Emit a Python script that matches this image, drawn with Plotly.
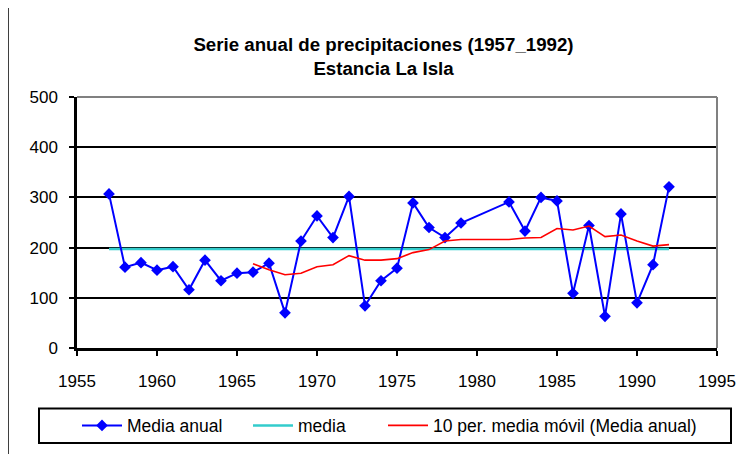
import plotly.graph_objects as go

# ---- data ----
years = [1957, 1958, 1959, 1960, 1961, 1962, 1963, 1964, 1965, 1966, 1967, 1968,
         1969, 1970, 1971, 1972, 1973, 1974, 1975, 1976, 1977, 1978, 1979,
         1982, 1983, 1984, 1985, 1986, 1987, 1988, 1989, 1990, 1991, 1992]
media_anual = [307, 161, 170, 155, 162, 116, 175, 134, 149, 151, 169, 70,
               213, 263, 220, 302, 84, 134, 159, 289, 240, 220, 249,
               291, 233, 300, 293, 109, 244, 63, 267, 90, 166, 321]
media_years = [1957, 1992]
media_vals = [197, 197]
mm_years = [1966, 1967, 1968, 1969, 1970, 1971, 1972, 1973, 1974, 1975, 1976, 1977,
            1978, 1979, 1982, 1983, 1984, 1985, 1986, 1987, 1988, 1989, 1990, 1991, 1992]
mm_vals = [168, 156, 146, 149, 162, 166, 184, 175, 175, 178, 190, 196,
           213, 216, 216, 219, 220, 238, 235, 243, 222, 225, 213, 203, 206]

# page has an 8px body margin; work in screen coordinates and convert
OFF = 8
W, H = 750 - OFF, 454 - OFF
L, T = 77 - OFF, 97 - OFF
R = W - (717 - OFF)
B = H - (348 - OFF)
PW, PH = W - L - R, H - T - B
def px(x): return (x - OFF - L) / PW
def py(y): return (H - B - (y - OFF)) / PH

FONT = "Liberation Sans, Arial, sans-serif"

fig = go.Figure()
fig.add_trace(go.Scatter(x=media_years, y=media_vals, name="media", mode="lines",
                         line=dict(color="#33CCCC", width=2.5), legendrank=2,
                         legendwidth=80))
fig.add_trace(go.Scatter(x=years, y=media_anual, name="Media anual", mode="lines+markers",
                         line=dict(color="#0000FF", width=2),
                         marker=dict(symbol="diamond", size=9, color="#0000FF"),
                         legendrank=1, legendwidth=116))
fig.add_trace(go.Scatter(x=mm_years, y=mm_vals, name="10 per. media móvil (Media anual)",
                         mode="lines", line=dict(color="#FF0000", width=1.6), legendrank=3))

shapes = [
    # outer chart border
    dict(type="rect", xref="paper", yref="paper", x0=px(8), x1=px(770), y0=py(480), y1=py(7),
         line=dict(color="#000000", width=1.5), layer="below"),
    # legend box
    dict(type="rect", xref="paper", yref="paper", x0=px(39), x1=px(731), y0=py(443), y1=py(408.5),
         line=dict(color="#000000", width=2), layer="below"),
    # plot area top & right border (gray)
    dict(type="line", xref="paper", yref="paper", x0=0, x1=1, y0=1, y1=1,
         line=dict(color="#808080", width=2)),
    dict(type="line", xref="paper", yref="paper", x0=1, x1=1, y0=0, y1=1,
         line=dict(color="#808080", width=2)),
]

fig.update_layout(
    width=W, height=H,
    margin=dict(l=L, r=R, t=T, b=B, autoexpand=False),
    paper_bgcolor="white", plot_bgcolor="white",
    font=dict(family=FONT, size=17, color="black"),
    title=dict(text="<b>Serie anual de precipitaciones (1957_1992)<br>Estancia La Isla</b>",
               font=dict(size=18.7, family=FONT, color="black"),
               x=(383.5 - OFF) / W, xref="container", xanchor="center",
               y=1 - (51 - OFF) / H, yref="container", yanchor="middle"),
    showlegend=True,
    legend=dict(orientation="h", x=px(77), xanchor="left", y=py(425.5), yanchor="middle",
                font=dict(size=17.5, family=FONT), bgcolor="rgba(0,0,0,0)",
                traceorder="normal", itemwidth=40),
    shapes=shapes,
)
fig.update_xaxes(range=[1955, 1995], dtick=5, tick0=1955, showgrid=False, zeroline=False,
                 showline=True, linecolor="black", linewidth=2.5,
                 ticks="outside", ticklen=5, tickwidth=1.5, tickcolor="black",
                 ticklabelstandoff=11)
fig.update_yaxes(range=[0, 500], dtick=100, showgrid=True, gridcolor="black", gridwidth=1.5,
                 zeroline=False, showline=True, linecolor="black", linewidth=2.5,
                 ticks="outside", ticklen=5, tickwidth=1.5, tickcolor="black",
                 ticklabelstandoff=8)

fig.write_html("out.html")
